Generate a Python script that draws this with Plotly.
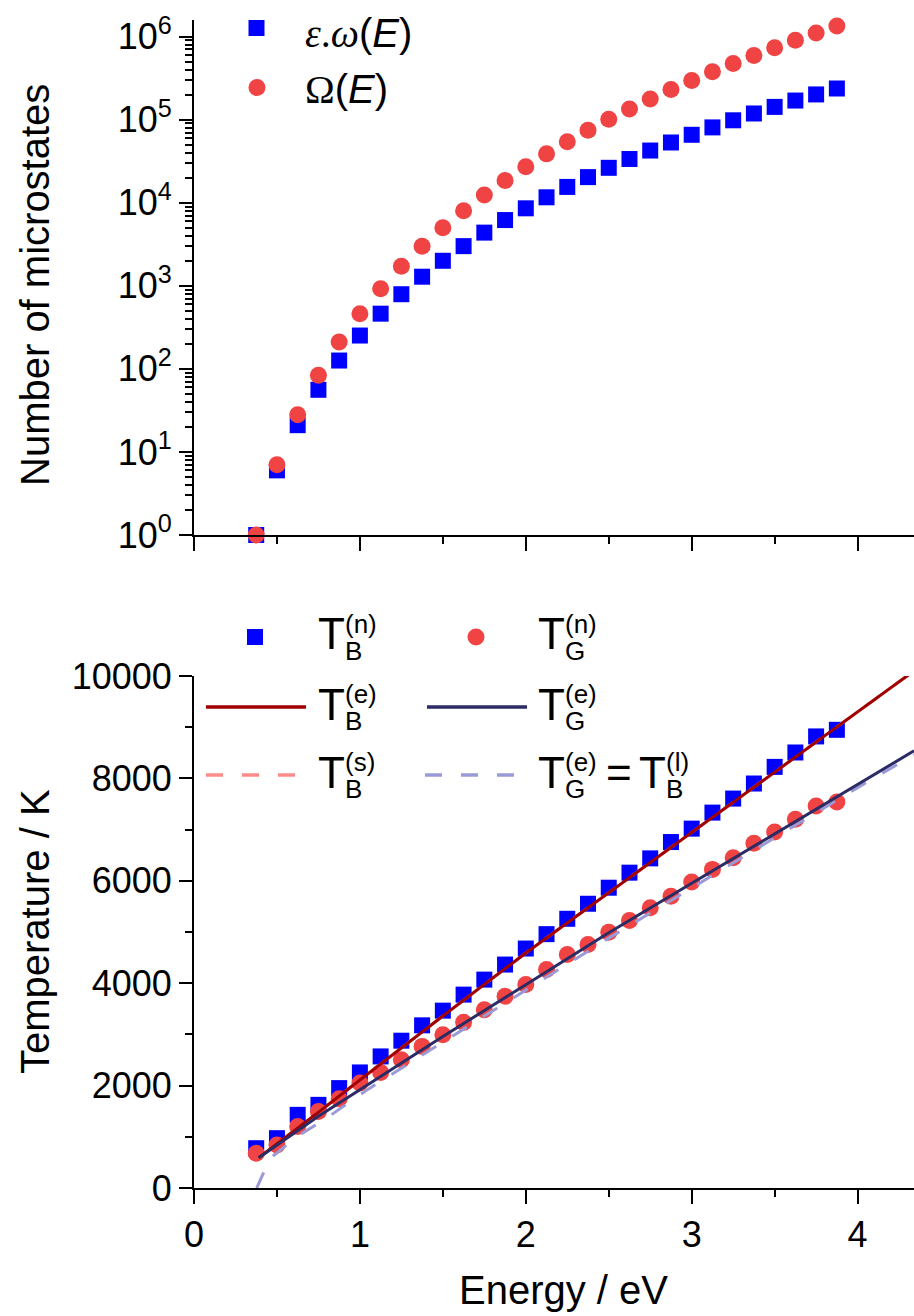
import plotly.graph_objects as go

# ---------------- data ----------------
energy = [0.375, 0.5, 0.625, 0.75, 0.875, 1.0, 1.125, 1.25, 1.375, 1.5,
          1.625, 1.75, 1.875, 2.0, 2.125, 2.25, 2.375, 2.5, 2.625, 2.75,
          2.875, 3.0, 3.125, 3.25, 3.375, 3.5, 3.625, 3.75, 3.875]

eps_omega = [1, 6, 21, 56, 126, 252, 462, 792, 1287, 2002,
             3003, 4368, 6188, 8568, 11628, 15504, 20349, 26334, 33649, 42504,
             53130, 65780, 80730, 98280, 118755, 142506, 169911, 201376, 237336]

Omega = [1, 7, 28, 84, 210, 462, 924, 1716, 3003, 5005,
         8008, 12376, 18564, 27132, 38760, 54264, 74613, 100947, 134596, 177100,
         230230, 296010, 376740, 475020, 593775, 736281, 906192, 1107568, 1344904]

T_B_num = [777, 973, 1429, 1624, 1951, 2257, 2570, 2877, 3177, 3464,
           3777, 4070, 4364, 4677, 4958, 5258, 5552, 5865, 6159, 6438,
           6757, 7019, 7332, 7606, 7900, 8225, 8506, 8820, 8949]

T_G_num = [679, 841, 1200, 1494, 1742, 2049, 2257, 2505, 2766, 2994,
           3235, 3483, 3744, 3973, 4266, 4560, 4755, 4996, 5225, 5473,
           5700, 5975, 6223, 6452, 6732, 6953, 7202, 7462, 7540]

line_E = [0.39, 0.5, 0.75, 1.0, 1.5, 2.0, 2.5, 3.0, 3.5, 4.0, 4.34]
T_B_e = [590, 860, 1480, 2110, 3360, 4590, 5770, 6940, 8120, 9300, 10100]
T_G_e = [590, 840, 1400, 1920, 2960, 3970, 4984, 5952, 6920, 7889, 8538]
T_B_s = [590, 860, 1480, 2110, 3360, 4590, 5770, 6940, 8120, 9300, 10100]

lin_E = [0.378, 0.416, 0.47, 0.51, 0.62, 0.70, 0.80, 0.87, 0.985, 1.05,
         1.5, 2.0, 2.5, 3.0, 3.5, 4.0, 4.34]
T_G_eq_B_l = [0, 274, 613, 710, 1004, 1168, 1364, 1526, 1787, 1931,
              2850, 3870, 4880, 5860, 6840, 7820, 8460]

log_tick_vals = [1, 10, 100, 1000, 10000, 100000, 1000000]
log_tick_text = ["10<sup>0</sup>", "10<sup>1</sup>", "10<sup>2</sup>", "10<sup>3</sup>",
                 "10<sup>4</sup>", "10<sup>5</sup>", "10<sup>6</sup>"]
log_minor_vals = [m * d for d in [1, 10, 100, 1000, 10000, 100000] for m in range(2, 10)]
temp_tick_vals = [0, 2000, 4000, 6000, 8000, 10000]
temp_tick_text = ["0", "2000", "4000", "6000", "8000", "10000"]

# ---------------- colours ----------------
BLUE = "#0000FF"
RED_PT = "#F04343"
DARK_RED = "#A00000"
NAVY = "#2B2B66"
PINK = "#FF8C8C"
LAVENDER = "#9A9AD8"
FONT = "Liberation Sans, Arial, sans-serif"

# ---------------- geometry ----------------
W, H = 914, 1316
ML, MR, MT, MB = 194, 0, 20, 128
PW = W - ML - MR
PH = H - MT - MB


def px(x):
    return (x - ML) / PW


def py(y):
    return (H - MB - y) / PH


fig = go.Figure()

# top panel
fig.add_trace(go.Scatter(x=energy, y=eps_omega, mode="markers", xaxis="x", yaxis="y",
                         marker=dict(symbol="square", size=16, color=BLUE, line=dict(width=0)),
                         cliponaxis=False, showlegend=False, name="ε.ω(E)"))
fig.add_trace(go.Scatter(x=energy, y=Omega, mode="markers", xaxis="x", yaxis="y",
                         marker=dict(symbol="circle", size=17, color=RED_PT, line=dict(width=0)),
                         cliponaxis=False, showlegend=False, name="Ω(E)"))

# bottom panel
fig.add_trace(go.Scatter(x=energy, y=T_B_num, mode="markers", xaxis="x2", yaxis="y2",
                         marker=dict(symbol="square", size=16, color=BLUE, line=dict(width=0)),
                         cliponaxis=False, showlegend=False, name="T_B(n)"))
fig.add_trace(go.Scatter(x=energy, y=T_G_num, mode="markers", xaxis="x2", yaxis="y2",
                         marker=dict(symbol="circle", size=17, color=RED_PT, line=dict(width=0)),
                         cliponaxis=False, showlegend=False, name="T_G(n)"))
fig.add_trace(go.Scatter(x=line_E, y=T_B_s, mode="lines", xaxis="x2", yaxis="y2",
                         line=dict(color=PINK, width=3, dash="17px,19px"),
                         showlegend=False, name="T_B(s)"))
fig.add_trace(go.Scatter(x=lin_E, y=T_G_eq_B_l, mode="lines", xaxis="x2", yaxis="y2",
                         line=dict(color=LAVENDER, width=3, dash="17px,19px"),
                         showlegend=False, name="T_G(e) = T_B(l)"))
fig.add_trace(go.Scatter(x=line_E, y=T_B_e, mode="lines", xaxis="x2", yaxis="y2",
                         line=dict(color=DARK_RED, width=3),
                         showlegend=False, name="T_B(e)"))
fig.add_trace(go.Scatter(x=line_E, y=T_G_e, mode="lines", xaxis="x2", yaxis="y2",
                         line=dict(color=NAVY, width=3),
                         showlegend=False, name="T_G(e)"))

tick_font = dict(family=FONT, size=36, color="black")


def xaxis_common(anchor, show_labels):
    return dict(range=[0, 4.34], domain=[0, 1], anchor=anchor,
                showline=True, linecolor="black", linewidth=2,
                ticks="outside", ticklen=14, tickwidth=2, tickcolor="black",
                tick0=0, dtick=1, showgrid=False, zeroline=False,
                showticklabels=show_labels, tickfont=tick_font,
                minor=dict(ticks="outside", ticklen=7, tickwidth=2, tickcolor="black",
                           tick0=0, dtick=0.5, showgrid=False))


fig.update_layout(
    width=W, height=H,
    margin=dict(l=ML, r=MR, t=MT, b=MB),
    paper_bgcolor="white", plot_bgcolor="white",
    font=dict(family=FONT, color="black"),
    showlegend=False,
    xaxis=xaxis_common("y", False),
    xaxis2=xaxis_common("y2", True),
    yaxis=dict(type="log", range=[0, 6.2], domain=[py(535), 1.0], anchor="x",
               showline=True, linecolor="black", linewidth=2,
               ticks="outside", ticklen=13, tickwidth=2, tickcolor="black",
               tickmode="array", tickvals=log_tick_vals, ticktext=log_tick_text,
               tickfont=tick_font, showgrid=False, zeroline=False,
               minor=dict(ticks="outside", ticklen=7, tickwidth=1.5, tickcolor="black",
                          tickmode="array", tickvals=log_minor_vals, showgrid=False)),
    yaxis2=dict(range=[0, 10000], domain=[0, py(676)], anchor="x2",
                showline=True, linecolor="black", linewidth=2,
                ticks="outside", ticklen=13, tickwidth=2, tickcolor="black",
                tickmode="array", tickvals=temp_tick_vals, ticktext=temp_tick_text,
                tickfont=tick_font, showgrid=False, zeroline=False,
                minor=dict(ticks="outside", ticklen=7, tickwidth=2, tickcolor="black",
                           tick0=0, dtick=1000, showgrid=False)),
)

shapes = []
annotations = []


def ann(text, x, y, size, xanchor="left", yanchor="middle", angle=0):
    annotations.append(dict(text=text, x=px(x), y=py(y), xref="paper", yref="paper",
                            xanchor=xanchor, yanchor=yanchor, showarrow=False,
                            textangle=angle, font=dict(family=FONT, size=size, color="black")))


def square(cx, cy, s, color):
    shapes.append(dict(type="rect", xref="paper", yref="paper",
                       x0=px(cx - s / 2), x1=px(cx + s / 2), y0=py(cy + s / 2), y1=py(cy - s / 2),
                       fillcolor=color, line=dict(width=0)))


def circle(cx, cy, d, color):
    shapes.append(dict(type="circle", xref="paper", yref="paper",
                       x0=px(cx - d / 2), x1=px(cx + d / 2), y0=py(cy + d / 2), y1=py(cy - d / 2),
                       fillcolor=color, line=dict(width=0)))


def hline(x0, x1, y, color, dash="solid"):
    shapes.append(dict(type="line", xref="paper", yref="paper",
                       x0=px(x0), x1=px(x1), y0=py(y), y1=py(y),
                       line=dict(color=color, width=3.5, dash=dash)))


def tlabel(x, yc, sub, sup):
    ann("T", x, yc, 44)
    ann("(" + sup + ")", x + 27, yc - 10, 26)
    ann(sub, x + 27, yc + 17, 26)


# axis titles
ann("Number of microstates", 35, 285, 40, xanchor="center", angle=-90)
ann("Temperature / K", 35, 932, 40, xanchor="center", angle=-90)
ann("Energy / eV", 563, 1290, 40, xanchor="center")

# top legend
square(256.5, 28, 16, BLUE)
ann('<span style="font-family:Liberation Serif"><i>ε</i>.<i>ω</i></span>(<i>E</i>)', 303, 33, 40)
circle(257, 87.5, 17, RED_PT)
ann('<span style="font-family:Liberation Serif">Ω</span>(<i>E</i>)', 303, 90, 40)

# bottom legend
square(255, 637, 16, BLUE)
tlabel(316, 634, "B", "n")
circle(476, 637, 17, RED_PT)
tlabel(536, 634, "G", "n")

hline(206, 306, 707, DARK_RED)
tlabel(316, 704, "B", "e")
hline(427, 527, 707, NAVY)
tlabel(536, 704, "G", "e")

hline(206, 306, 775, PINK, "17px,19px")
tlabel(316, 772, "B", "s")
hline(425, 525, 775, LAVENDER, "17px,19px")
tlabel(536, 772, "G", "e")
ann("=", 604, 772, 44)
tlabel(637, 772, "B", "l")

fig.update_layout(shapes=shapes, annotations=annotations)

fig.write_html("out.html")
